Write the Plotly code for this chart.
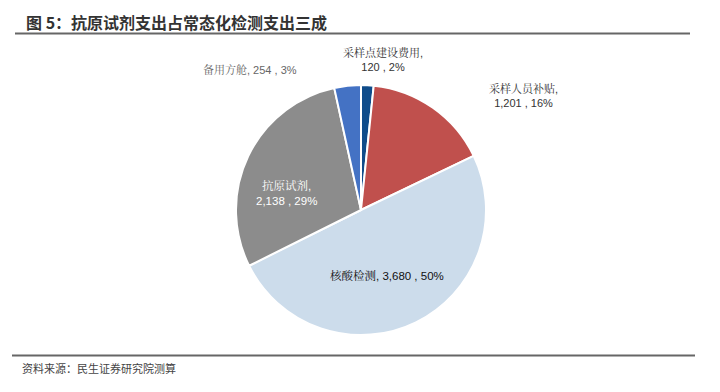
import plotly.graph_objects as go

labels = ["采样点建设费用", "采样人员补贴", "核酸检测", "抗原试剂", "备用方舱"]
values = [120, 1201, 3680, 2138, 254]
colors = ["#0F4C8A", "#C0504D", "#CCDCEB", "#8C8C8C", "#4472C4"]

W, H = 720, 392
cx, cy, r = 361, 210, 125

fig = go.Figure()
fig.add_trace(go.Pie(
    labels=labels, values=values, sort=False, direction="clockwise", rotation=0,
    marker=dict(colors=colors, line=dict(color="white", width=2)),
    textinfo="none", hoverinfo="label+value+percent", showlegend=False,
    domain=dict(x=[(cx - r) / W, (cx + r) / W], y=[(H - cy - r) / H, (H - cy + r) / H]),
))

total = sum(values)
pcts = [round(v / total * 100) for v in values]
def vtxt(i):
    return f"{values[i]:,} , {pcts[i]}%"

cjk = "Noto Serif CJK SC, AR PL UKai CN, Noto Sans CJK SC"
num = "Liberation Sans, Arial, Noto Sans CJK SC"

ann = [
    (383, 59, f"<span style='font-family:{cjk}'>{labels[0]}</span>,<br>{vtxt(0)}", "#333333", 11),
    (523, 94, f"<span style='font-family:{cjk}'>{labels[1]}</span>,<br>{vtxt(1)}", "#333333", 11),
    (387, 275, f"<span style='font-family:{cjk}'>{labels[2]}</span>, {vtxt(2)}", "#111111", 11.5),
    (286, 192, f"<span style='font-family:{cjk}'>{labels[3]}</span>,<br>{vtxt(3)}", "white", 11.5),
    (250, 69, f"<span style='font-family:{cjk}'>{labels[4]}</span>, {vtxt(4)}", "#666666", 11),
]
annotations = []
for x, y, t, c, s in ann:
    annotations.append(dict(x=x / W, y=1 - y / H, xref="paper", yref="paper", text=t,
                            showarrow=False, font=dict(size=s, color=c, family=num),
                            xanchor="center", yanchor="middle", align="center"))

annotations.append(dict(x=24 / W, y=1 - 22 / H, xref="paper", yref="paper",
                        text="<b>图 5：抗原试剂支出占常态化检测支出三成</b>", showarrow=False,
                        font=dict(size=16, color="#333333", family="Noto Sans CJK SC"),
                        xanchor="left", yanchor="middle"))
annotations.append(dict(x=20 / W, y=1 - 368 / H, xref="paper", yref="paper",
                        text="资料来源：民生证券研究院测算", showarrow=False,
                        font=dict(size=11, color="#444444", family="Noto Sans CJK SC"),
                        xanchor="left", yanchor="middle"))

shapes = [
    dict(type="line", xref="paper", yref="paper", x0=15 / W, x1=690 / W, y0=1 - 33.5 / H, y1=1 - 33.5 / H,
         line=dict(color="#666666", width=2)),
    dict(type="line", xref="paper", yref="paper", x0=12 / W, x1=695 / W, y0=1 - 355.5 / H, y1=1 - 355.5 / H,
         line=dict(color="#666666", width=2)),
]

fig.update_layout(width=W, height=H, margin=dict(l=0, r=0, t=0, b=0),
                  paper_bgcolor="white", plot_bgcolor="white",
                  annotations=annotations, shapes=shapes)
fig.write_html("out.html", config={"displayModeBar": False},
               post_script="document.body.style.margin='0';")
